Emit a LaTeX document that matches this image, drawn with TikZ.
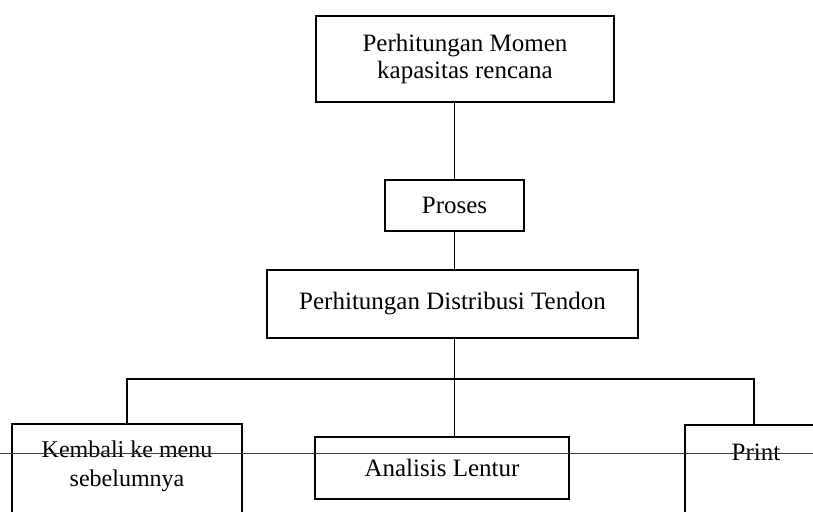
\documentclass[tikz,border=0pt]{standalone}
\usepackage{fontspec}
\setmainfont{Liberation Serif}
\begin{document}
\begin{tikzpicture}[x=1pt,y=-1pt,
  box/.style={draw,line width=1.5pt,rectangle,inner sep=0pt,align=center,
    font=\fontsize{25}{27}\selectfont},
  conn/.style={line width=1.5pt}]
\useasboundingbox (0,0) rectangle (813,511);
\clip (0,0) rectangle (813,511);
\node[box,minimum width=298pt,minimum height=86pt] (top) at (465,59)
  {Perhitungan Momen\\kapasitas rencana};
\node[box,minimum width=139pt,minimum height=51pt] (pro) at (454.5,205.5) {Proses};
\node[box,minimum width=371pt,minimum height=68pt] (dist) at (452.5,304)
  {\raisebox{6pt}{Perhitungan Distribusi Tendon}};
\coordinate (bus) at (454.5,379);
\node[box,minimum width=230pt,minimum height=130pt] (kemb) at (127,489) {};
\node[font=\fontsize{24}{29}\selectfont,align=center,anchor=center] (kembt) at (127,466)
  {Kembali ke menu\\sebelumnya};
\node[box,minimum width=254pt,minimum height=62pt] (ana) at (442,468) {Analisis Lentur};
\node[box,minimum width=138pt,minimum height=130pt] (prt) at (754,490) {};
\node[font=\fontsize{25}{27}\selectfont] (prtt) at (756,452) {Print};
\draw[conn] (top.south -| pro) -- (pro.north);
\draw[conn] (pro.south) -- (pro.south |- dist.north);
\draw[conn] (dist.south -| bus) -- (bus);
\draw[conn] (kemb.north) -- (kemb.north |- bus) -- (prt.north |- bus) -- (prt.north);
\draw[conn] (bus) -- (ana.north -| bus);
\draw[line width=0.7pt,black!75] (0,453) -- (813,453);
\end{tikzpicture}
\end{document}
